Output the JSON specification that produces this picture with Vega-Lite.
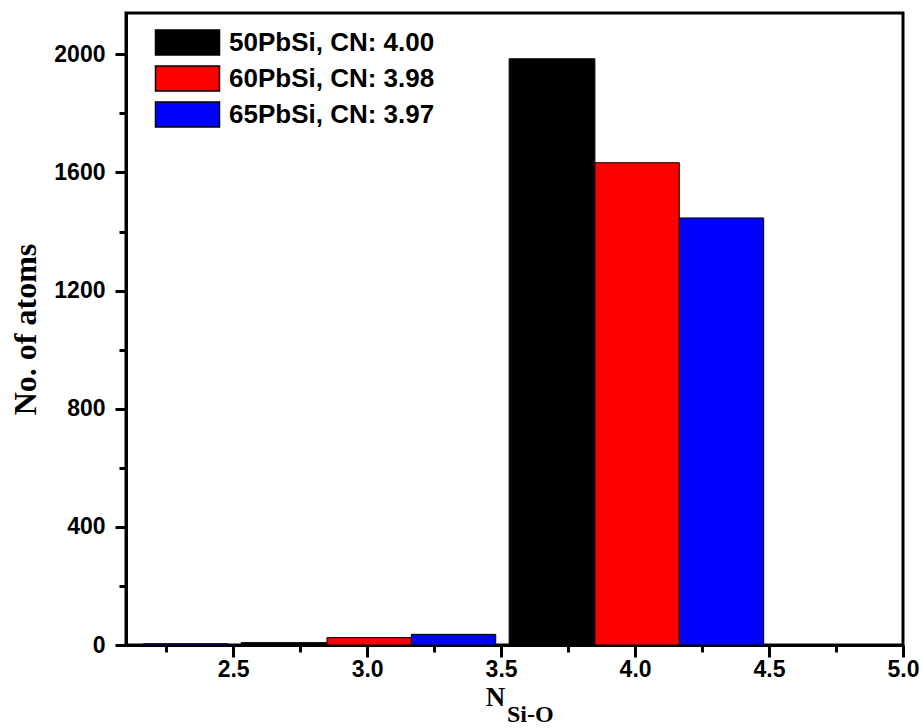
{
  "$schema": "https://vega.github.io/schema/vega-lite/v6.json",
  "width": 777,
  "height": 632,
  "autosize": "none",
  "padding": {"left": 126, "top": 13, "right": 20, "bottom": 83},
  "background": "white",
  "config": {
    "view": {"stroke": "black", "strokeWidth": 3},
    "axis": {
      "grid": false,
      "domainColor": "black",
      "domainWidth": 3,
      "tickColor": "black",
      "tickWidth": 3,
      "labelFont": "Liberation Sans",
      "labelFontWeight": "bold",
      "labelFontSize": 23,
      "labelColor": "black",
      "titleFont": "Liberation Serif",
      "titleFontWeight": "bold",
      "titleColor": "black"
    }
  },
  "title": {
    "text": "Si-O",
    "orient": "bottom",
    "anchor": "start",
    "frame": "group",
    "dx": 381,
    "offset": -7,
    "font": "Liberation Serif",
    "fontWeight": "bold",
    "fontSize": 24,
    "color": "black"
  },
  "data": {
    "values": [
      {"n": 2, "series": "65PbSi, CN: 3.97", "lo": 2.165, "hi": 2.48, "count": 4},
      {"n": 3, "series": "50PbSi, CN: 4.00", "lo": 2.53, "hi": 2.85, "count": 8},
      {"n": 3, "series": "60PbSi, CN: 3.98", "lo": 2.85, "hi": 3.165, "count": 25},
      {"n": 3, "series": "65PbSi, CN: 3.97", "lo": 3.165, "hi": 3.48, "count": 36},
      {"n": 4, "series": "50PbSi, CN: 4.00", "lo": 3.53, "hi": 3.85, "count": 1985},
      {"n": 4, "series": "60PbSi, CN: 3.98", "lo": 3.85, "hi": 4.165, "count": 1633},
      {"n": 4, "series": "65PbSi, CN: 3.97", "lo": 4.165, "hi": 4.48, "count": 1446}
    ]
  },
  "mark": {"type": "rect", "stroke": "black", "strokeWidth": 1},
  "encoding": {
    "x": {
      "field": "lo",
      "type": "quantitative",
      "scale": {"domain": [2.1, 5.0], "nice": false, "zero": false},
      "axis": {
        "title": "N",
        "titleFontSize": 27,
        "titleAlign": "center",
        "titleBaseline": "alphabetic",
        "titleX": 369,
        "titleY": 60,
        "values": [2.25, 2.5, 2.75, 3.0, 3.25, 3.5, 3.75, 4.0, 4.25, 4.5, 4.75, 5.0],
        "labelExpr": "round(datum.value * 4) % 2 == 0 ? format(datum.value, '.1f') : ''",
        "tickSize": {"condition": {"test": "round(datum.value * 4) % 2 == 0", "value": 12}, "value": 7},
        "labelPadding": 1,
        "labelFlush": false,
        "labelOverlap": false
      }
    },
    "x2": {"field": "hi"},
    "y": {
      "field": "count",
      "type": "quantitative",
      "scale": {"domain": [0, 2140], "nice": false},
      "axis": {
        "title": "No. of atoms",
        "titleFontSize": 32,
        "titleBaseline": "alphabetic",
        "titleX": -91,
        "values": [0, 200, 400, 600, 800, 1000, 1200, 1400, 1600, 1800, 2000],
        "labelExpr": "datum.value % 400 == 0 ? format(datum.value, 'd') : ''",
        "tickSize": {"condition": {"test": "datum.value % 400 == 0", "value": 11}, "value": 7},
        "labelPadding": 10,
        "labelOverlap": false
      }
    },
    "y2": {"datum": 0},
    "color": {
      "field": "series",
      "type": "nominal",
      "scale": {
        "domain": ["50PbSi, CN: 4.00", "60PbSi, CN: 3.98", "65PbSi, CN: 3.97"],
        "range": ["#000000", "#ff0000", "#0000ff"]
      },
      "legend": {
        "title": null,
        "orient": "none",
        "legendX": 30,
        "legendY": 16,
        "padding": 0,
        "symbolType": "M-2.56,-1H2.56V1H-2.56Z",
        "symbolSize": 625,
        "symbolStrokeColor": "black",
        "symbolStrokeWidth": 1.5,
        "symbolOpacity": 1,
        "symbolOffset": 18,
        "labelOffset": 28,
        "labelLimit": 0,
        "rowPadding": 5,
        "labelFont": "Liberation Sans",
        "labelFontWeight": "bold",
        "labelFontSize": 26,
        "labelColor": "black"
      }
    }
  }
}
